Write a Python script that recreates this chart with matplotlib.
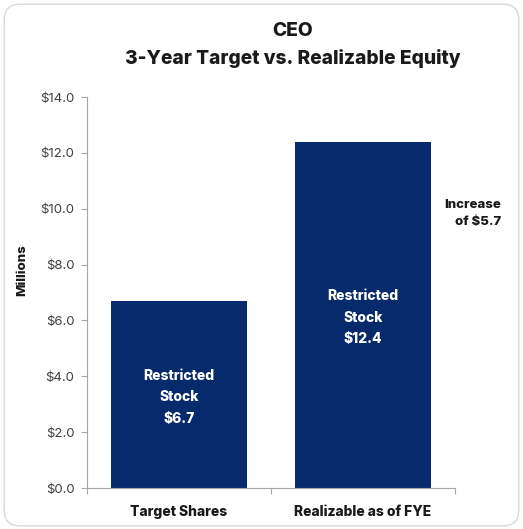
import matplotlib
matplotlib.use("Agg")
import matplotlib.pyplot as plt
from matplotlib.patches import FancyBboxPatch
from matplotlib.ticker import FuncFormatter
import numpy as np

# --- data ---
categories = ["Target Shares", "Realizable as of FYE"]
values = [6.7, 12.4]
bar_labels = ["Restricted\nStock\n$6.7", "Restricted\nStock\n$12.4"]
increase_text = "Increase\nof $5.7"
title_text = "CEO\n3-Year Target vs. Realizable Equity"

plt.rcParams["font.family"] = ["Inter", "DejaVu Sans"]

navy = "#062a6c"
gray = "#a6a6a6"

fig = plt.figure(figsize=(5.23, 5.29), dpi=100)

# rounded card outline (drawn behind the axes)
card = FancyBboxPatch((0.008, 0.006), 0.984, 0.986,
                      boxstyle="round,pad=0,rounding_size=0.03",
                      transform=fig.transFigure, facecolor="white",
                      edgecolor="#d9d9d9", linewidth=1.0, zorder=-5)
fig.patches.append(card)

ax = fig.add_axes([0.1663, 0.0775, 0.7037, 0.7391])
ax.set_facecolor("none")

x = np.arange(len(categories))
ax.bar(x, values, width=0.735, color=navy, zorder=2)

for xi, v, lab in zip(x, values, bar_labels):
    ax.text(xi, v / 2 - 0.1, lab, ha="center", va="center", color="white",
            fontsize=10, fontweight="heavy", linespacing=1.68, zorder=3)

ax.set_xlim(-0.5, 1.5)
ax.set_ylim(0, 14)
ax.set_yticks(np.arange(0, 14.1, 2))
ax.yaxis.set_major_formatter(FuncFormatter(lambda v, p: f"${v:.1f}"))
ax.tick_params(axis="y", labelsize=9.5, colors=gray, labelcolor="#404040",
               length=4, width=0.8, pad=5)

ax.set_xticks(x)
ax.set_xticklabels(categories, fontsize=10, fontweight="heavy")
ax.set_xticks([-0.5, 0.5, 1.5], minor=True)
ax.tick_params(axis="x", which="major", length=0, pad=12, labelcolor="#1a1a1a")
ax.tick_params(axis="x", which="minor", length=4, width=0.8, colors=gray)

for s in ["top", "right"]:
    ax.spines[s].set_visible(False)
for s in ["left", "bottom"]:
    ax.spines[s].set_color(gray)
    ax.spines[s].set_linewidth(0.8)

fig.text(0.042, 0.49, "Millions", rotation=90, ha="center", va="center",
         fontsize=9.5, fontweight="heavy", color="#1a1a1a")

fig.text(0.560, 0.915, title_text, ha="center", va="center", fontsize=13.8,
         fontweight="heavy", color="#1a1a1a", linespacing=1.55)

fig.text(0.958, 0.596, increase_text, ha="right", va="center", fontsize=9.5,
         fontweight="heavy", color="#1a1a1a", linespacing=1.6)

fig.savefig("out.png", dpi=100)
